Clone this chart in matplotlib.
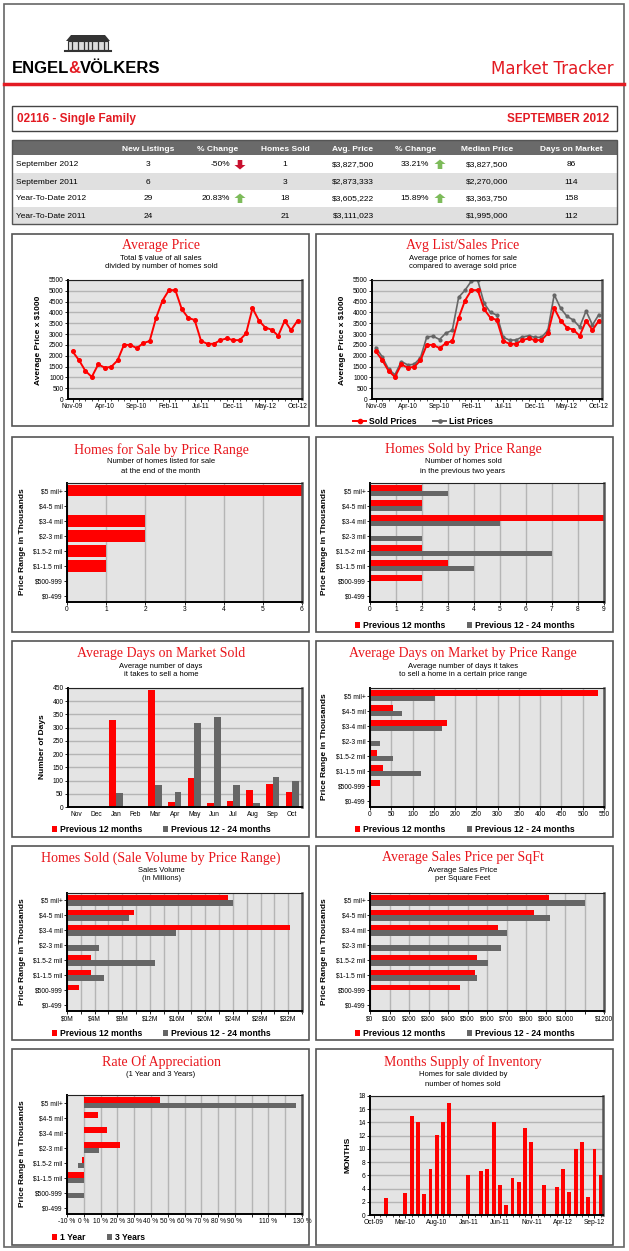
import matplotlib
matplotlib.use('Agg')
import matplotlib.pyplot as plt
from matplotlib.patches import Rectangle, Polygon
from matplotlib.lines import Line2D
import numpy as np

plt.rcParams['font.family'] = ['Liberation Sans', 'DejaVu Sans']

W, H = 629, 1251
RED = '#ff0000'
TITLE_RED = '#e8151b'
GRAY = '#666666'
BG = '#e4e4e4'
GRID = '#b5b5b5'
SERIF = 'Liberation Serif'

# ---------------- data ----------------
row_labels = ['September 2012', 'September 2011', 'Year-To-Date 2012', 'Year-To-Date 2011']
new_listings = ['3', '6', '29', '24']
pct_listings = ['-50%', '', '20.83%', '']
arrow_listings = ['down', '', 'up', '']
homes_sold = ['1', '3', '18', '21']
avg_price_tbl = ['$3,827,500', '$2,873,333', '$3,605,222', '$3,111,023']
pct_price = ['33.21%', '', '15.89%', '']
arrow_price = ['up', '', 'up', '']
median_price = ['$3,827,500', '$2,270,000', '$3,363,750', '$1,995,000']
days_market = ['86', '114', '158', '112']
table_headers = ['New Listings', '% Change', 'Homes Sold', 'Avg. Price', '% Change', 'Median Price', 'Days on Market']

price_ticks = ['Nov-09', 'Apr-10', 'Sep-10', 'Feb-11', 'Jul-11', 'Dec-11', 'May-12', 'Oct-12']
sold_price = [2200, 1800, 1300, 1020, 1600, 1450, 1480, 1780, 2500, 2500, 2350, 2580,
              2680, 3750, 4550, 5030, 5030, 4150, 3750, 3650, 2680, 2550, 2550, 2720,
              2800, 2720, 2720, 3030, 4200, 3620, 3300, 3200, 2920, 3620, 3180, 3620]
list_price = [2380, 1950, 1380, 1120, 1730, 1580, 1600, 1900, 2870, 2900, 2750, 3050,
              3170, 4700, 5030, 5450, 5480, 4420, 4000, 3880, 2850, 2720, 2730, 2870,
              2920, 2850, 2850, 3170, 4820, 4200, 3820, 3650, 3330, 4070, 3420, 3900]

ranges = ['$5 mil+', '$4-5 mil', '$3-4 mil', '$2-3 mil', '$1.5-2 mil', '$1-1.5 mil', '$500-999', '$0-499']
for_sale = [6, 0, 2, 2, 1, 1, 0, 0]
sold_12 = [2, 2, 9, 0, 2, 3, 2, 0]
sold_24 = [3, 2, 5, 2, 7, 4, 0, 0]

dom_months = ['Nov', 'Dec', 'Jan', 'Feb', 'Mar', 'Apr', 'May', 'Jun', 'Jul', 'Aug', 'Sep', 'Oct']
dom_12 = [0, 0, 330, 0, 443, 20, 110, 17, 22, 63, 87, 58]
dom_24 = [0, 0, 53, 0, 85, 58, 318, 342, 85, 15, 115, 98]

dom_range_12 = [537, 55, 180, 0, 17, 31, 23, 0]
dom_range_24 = [153, 76, 170, 24, 55, 120, 0, 0]

vol_12 = [23.3, 9.7, 32.3, 0, 3.5, 3.4, 1.7, 0]
vol_24 = [24.0, 9.0, 15.8, 4.6, 12.7, 5.4, 0, 0]

sqft_12 = [920, 840, 655, 0, 550, 540, 460, 0]
sqft_24 = [1105, 925, 705, 670, 605, 550, 0, 0]

appr_1y = [45.5, 8.3, 14.0, 21.6, -1.2, -10.5, 0, 0]
appr_3y = [126.5, 0, 0, 8.8, -3.3, -10.5, -10.5, 0]

supply_ticks = ['Oct-09', 'Mar-10', 'Aug-10', 'Jan-11', 'Jun-11', 'Nov-11', 'Apr-12', 'Sep-12']
supply = [0, 0, 2.5, 0, 0, 3.4, 15, 14, 3.2, 7, 12.1, 14, 17, 0, 0, 6, 0, 6.6, 7, 14,
          4.5, 1.5, 5.6, 5, 13.1, 11.1, 0, 4.5, 0, 4.3, 7, 3.5, 10, 11.1, 2.7, 10, 6]

# ---------------- helpers (pixel coords, y from top) ----------------
fig = plt.figure(figsize=(W / 100, H / 100), dpi=100)


def fy(y):
    return 1 - y / H


def add_ax(x0, y0, x1, y1):
    return fig.add_axes([x0 / W, 1 - y1 / H, (x1 - x0) / W, (y1 - y0) / H])


def fig_rect(x0, y0, x1, y1, **kw):
    r = Rectangle((x0 / W, 1 - y1 / H), (x1 - x0) / W, (y1 - y0) / H,
                  transform=fig.transFigure, **kw)
    fig.add_artist(r)


def fig_text(x, y, s, **kw):
    return fig.text(x / W, fy(y), s, **kw)


def arrow(cx, cy, direction, color):
    s = 1 if direction == 'up' else -1
    pts = [(cx, cy - 5 * s), (cx + 5.5, cy - 0.5 * s), (cx + 2.3, cy - 0.5 * s),
           (cx + 2.3, cy + 4.5 * s), (cx - 2.3, cy + 4.5 * s), (cx - 2.3, cy - 0.5 * s),
           (cx - 5.5, cy - 0.5 * s)]
    fig.add_artist(Polygon([(x / W, fy(y)) for x, y in pts], closed=True,
                           transform=fig.transFigure, facecolor=color, edgecolor='none'))


def titles(cx, title, ty, subs, sub_y):
    fig_text(cx, ty, title, ha='center', va='center', family=SERIF, fontsize=10, color=TITLE_RED)
    for s, y in zip(subs, sub_y):
        fig_text(cx, y, s, ha='center', va='center', fontsize=5.5)


def ylabel(x, y, s):
    fig_text(x, y, s, ha='center', va='center', rotation=90, fontsize=6, weight='bold')


def style(ax):
    ax.set_facecolor(BG)
    ax.set_axisbelow(True)
    ax.spines['left'].set_linewidth(1.4)
    ax.spines['bottom'].set_linewidth(1.4)
    ax.spines['top'].set_linewidth(0.8)
    ax.spines['top'].set_color('#222222')
    ax.spines['right'].set_linewidth(1.8)
    ax.spines['right'].set_color('#555555')
    ax.tick_params(labelsize=4.8, length=2, width=0.6, pad=1.2)


def sq_legend(items, y):
    for x, color, label in items:
        fig_rect(x, y - 2.6, x + 5.2, y + 2.6, facecolor=color, edgecolor='none')
        fig_text(x + 8, y, label, ha='left', va='center', fontsize=6.2, weight='bold')


def hbars(ax, v1, v2=None):
    y = np.arange(len(ranges))
    if v2 is None:
        ax.barh(y, v1, height=0.78, color=RED)
    else:
        ax.barh(y - 0.18, v1, height=0.36, color=RED)
        ax.barh(y + 0.18, v2, height=0.36, color=GRAY)
    ax.set_yticks(y)
    ax.set_yticklabels(ranges)
    ax.set_ylim(7.4, -0.5)
    ax.xaxis.grid(True, color=GRID, lw=1.0)
    style(ax)


# ---------------- page header ----------------
fig_rect(4, 4, 624, 1247, facecolor='none', edgecolor='#666666', lw=1.2)

# logo building
fig.add_artist(Polygon([(x / W, fy(y)) for x, y in [(66, 41), (71, 35), (105, 35), (110, 41)]],
                       closed=True, transform=fig.transFigure, facecolor='#333333'))
fig_rect(68, 41, 108, 50, facecolor='#dddddd', edgecolor='#333333', lw=0.8)
for cx in [72, 78, 84, 88, 92, 98, 104]:
    fig.add_artist(Line2D([cx / W] * 2, [fy(42), fy(49)], transform=fig.transFigure,
                          color='#333333', lw=0.9))
fig.add_artist(Line2D([65 / W, 111 / W], [fy(51)] * 2, transform=fig.transFigure,
                      color='#333333', lw=1.5))

renderer = fig.canvas.get_renderer()
x_cur = 12
for part, col, gap in [('ENGEL', 'black', -1.5), ('&', '#e31b23', 0.3), ('VÖLKERS', 'black', 0)]:
    t = fig_text(x_cur, 73, part, ha='left', va='baseline', fontsize=12, weight='bold', color=col)
    x_cur = t.get_window_extent(renderer).x1 + gap
fig_text(614, 74, 'Market Tracker', ha='right', va='baseline', fontsize=12,
         color='#e31b23', family='DejaVu Sans')
fig.add_artist(Line2D([4 / W, 624 / W], [fy(84)] * 2, transform=fig.transFigure,
                      color='#e31b23', lw=2.5))

fig_rect(12, 106, 617, 131, facecolor='none', edgecolor='#444444', lw=1)
fig_text(17, 122, '02116 - Single Family', ha='left', va='baseline', fontsize=8.5,
         weight='bold', color='#e31b23')
fig_text(609, 122, 'SEPTEMBER 2012', ha='right', va='baseline', fontsize=8.5,
         weight='bold', color='#e31b23')

# ---------------- summary table ----------------
fig_rect(12, 140, 617, 155, facecolor='#6a6a6a', edgecolor='none')
row_bounds = [(155, 173), (173, 190), (190, 207), (207, 224)]
for i, (a, b) in enumerate(row_bounds):
    fig_rect(12, a, 617, b, facecolor='white' if i % 2 == 0 else '#e0e0e0', edgecolor='none')
fig_rect(12, 140, 617, 224, facecolor='none', edgecolor='#555555', lw=1)

col_x = [148, 218, 285, 353, 416, 487, 571]
for x, h in zip(col_x, table_headers):
    fig_text(x, 149.5, h, ha='center', va='center', fontsize=6, weight='bold', color='white')

row_y = [165, 182, 199, 216]
for i, y in enumerate(row_y):
    fig_text(16, y, row_labels[i], ha='left', va='center', fontsize=6)
    fig_text(col_x[0], y, new_listings[i], ha='center', va='center', fontsize=6)
    fig_text(230, y, pct_listings[i], ha='right', va='center', fontsize=6)
    fig_text(col_x[2], y, homes_sold[i], ha='center', va='center', fontsize=6)
    fig_text(col_x[3], y, avg_price_tbl[i], ha='center', va='center', fontsize=6)
    fig_text(429, y, pct_price[i], ha='right', va='center', fontsize=6)
    fig_text(col_x[5], y, median_price[i], ha='center', va='center', fontsize=6)
    fig_text(col_x[6], y, days_market[i], ha='center', va='center', fontsize=6)
    for ax_x, d in [(240, arrow_listings[i]), (440, arrow_price[i])]:
        if d:
            arrow(ax_x, y - 0.5, d, '#c8102e' if d == 'down' else '#7dbb5a')

# ---------------- panel borders ----------------
panel_rows = [(234, 426), (437, 632), (641, 837), (846, 1040), (1049, 1245)]
for a, b in panel_rows:
    fig_rect(12, a, 309, b, facecolor='none', edgecolor='#555555', lw=1.2, zorder=5)
    fig_rect(316, a, 613, b, facecolor='none', edgecolor='#555555', lw=1.2, zorder=5)

months_idx = np.arange(len(sold_price))

# 1 Average Price
ax = add_ax(68, 280, 302, 399)
ax.plot(months_idx, sold_price, color=RED, lw=1.4, marker='o', ms=2.6)
ax.set_xlim(-0.7, 35.7)
ax.set_ylim(0, 5500)
ax.set_yticks(np.arange(0, 5501, 500))
ax.set_xticks(np.arange(0, 36, 5))
ax.set_xticklabels(price_ticks)
ax.set_xticks(months_idx, minor=True)
ax.yaxis.grid(True, color=GRID, lw=1.0)
style(ax)
ax.tick_params(which='minor', length=1.5, width=0.5)
titles(161, 'Average Price', 246, ['Total $ value of all sales', 'divided by number of homes sold'], [258, 267])
ylabel(38, 340, 'Average Price x $1000')

# 2 Avg List/Sales Price
ax = add_ax(372, 280, 602, 399)
ax.plot(months_idx, list_price, color=GRAY, lw=1.2, marker='o', ms=2)
ax.plot(months_idx, sold_price, color=RED, lw=1.4, marker='o', ms=2.6)
ax.set_xlim(-0.6, 35.5)
ax.set_ylim(0, 5500)
ax.set_yticks(np.arange(0, 5501, 500))
ax.set_xticks(np.arange(0, 36, 5))
ax.set_xticklabels(price_ticks)
ax.set_xticks(months_idx, minor=True)
ax.yaxis.grid(True, color=GRID, lw=1.0)
style(ax)
ax.tick_params(which='minor', length=1.5, width=0.5)
titles(463, 'Avg List/Sales Price', 246, ['Average price of homes for sale', 'compared to average sold price'], [258, 267])
ylabel(342, 340, 'Average Price x $1000')
for x0, x1, col, ms, lab in [(353, 366, RED, 3, 'Sold Prices'), (433, 446, GRAY, 2.4, 'List Prices')]:
    fig.add_artist(Line2D([x0 / W, x1 / W], [fy(421)] * 2, transform=fig.transFigure, color=col, lw=1.4))
    fig.add_artist(Line2D([(x0 + x1) / 2 / W], [fy(421)], transform=fig.transFigure, color=col,
                          marker='o', ms=ms, lw=0))
    fig_text(x1 + 3, 421, lab, ha='left', va='center', fontsize=6.2, weight='bold')

# 3 Homes for Sale by Price Range
ax = add_ax(67, 483, 302, 602)
hbars(ax, for_sale)
ax.set_xlim(0, 6)
ax.set_xticks(range(7))
titles(161, 'Homes for Sale by Price Range', 450, ['Number of homes listed for sale', 'at the end of the month'], [462, 472])
ylabel(23, 542, 'Price Range in Thousands')

# 4 Homes Sold by Price Range
ax = add_ax(370, 483, 604, 602)
hbars(ax, sold_12, sold_24)
ax.set_xlim(0, 9)
ax.set_xticks(range(10))
titles(463, 'Homes Sold by Price Range', 450, ['Number of homes sold', 'in the previous two years'], [462, 472])
ylabel(325, 542, 'Price Range in Thousands')
sq_legend([(355, RED, 'Previous 12 months'), (467, GRAY, 'Previous 12 - 24 months')], 625)

# 5 Average Days on Market Sold
ax = add_ax(68, 688, 302, 807)
xm = np.arange(len(dom_months))
ax.bar(xm - 0.17, dom_12, width=0.34, color=RED)
ax.bar(xm + 0.17, dom_24, width=0.34, color=GRAY)
ax.set_xlim(-0.45, 11.5)
ax.set_ylim(0, 450)
ax.set_yticks(np.arange(0, 451, 50))
ax.set_xticks(xm)
ax.set_xticklabels(dom_months)
ax.yaxis.grid(True, color=GRID, lw=1.0)
style(ax)
ax.tick_params(axis='x', length=0, pad=3)
titles(161, 'Average Days on Market Sold', 654, ['Average number of days', 'it takes to sell a home'], [666, 675])
ylabel(42, 747, 'Number of Days')
sq_legend([(52, RED, 'Previous 12 months'), (163, GRAY, 'Previous 12 - 24 months')], 829)

# 6 Average Days on Market by Price Range
ax = add_ax(370, 688, 604, 807)
hbars(ax, dom_range_12, dom_range_24)
ax.set_xlim(0, 550)
ax.set_xticks(range(0, 551, 50))
titles(463, 'Average Days on Market by Price Range', 654,
       ['Average number of days it takes', 'to sell a home in a certain price range'], [666, 675])
ylabel(325, 747, 'Price Range in Thousands')
sq_legend([(355, RED, 'Previous 12 months'), (467, GRAY, 'Previous 12 - 24 months')], 829)

# 7 Homes Sold (Sale Volume by Price Range)
ax = add_ax(67, 893, 302, 1011)
hbars(ax, vol_12, vol_24)
ax.set_xlim(0, 34)
ax.set_xticks(range(0, 35, 2))
ax.set_xticklabels(['$%dM' % v if v % 4 == 0 else '' for v in range(0, 35, 2)])
titles(161, 'Homes Sold (Sale Volume by Price Range)', 858, ['Sales Volume', '(in Millions)'], [870, 879])
ylabel(23, 952, 'Price Range in Thousands')
sq_legend([(52, RED, 'Previous 12 months'), (163, GRAY, 'Previous 12 - 24 months')], 1033)

# 8 Average Sales Price per SqFt
ax = add_ax(370, 893, 604, 1011)
hbars(ax, sqft_12, sqft_24)
ax.set_xlim(0, 1200)
ax.set_xticks(range(0, 1201, 100))
ax.set_xticklabels(['' if v == 1100 else '$%d' % v for v in range(0, 1201, 100)])
titles(463, 'Average Sales Price per SqFt', 858, ['Average Sales Price', 'per Square Feet'], [870, 879])
ylabel(325, 952, 'Price Range in Thousands')
sq_legend([(355, RED, 'Previous 12 months'), (467, GRAY, 'Previous 12 - 24 months')], 1033)

# 9 Rate Of Appreciation
ax = add_ax(67, 1095, 302, 1214)
hbars(ax, appr_1y, appr_3y)
ax.set_xlim(-10, 130)
ax.set_xticks(range(-10, 131, 10))
ax.set_xticklabels(['' if v in (100, 120) else '%d %%' % v for v in range(-10, 131, 10)])
titles(161, 'Rate Of Appreciation', 1062, ['(1 Year and 3 Years)'], [1074])
ylabel(23, 1154, 'Price Range in Thousands')
sq_legend([(52, RED, '1 Year'), (107, GRAY, '3 Years')], 1237)

# 10 Months Supply of Inventory
ax = add_ax(370, 1096, 603, 1215)
xs = np.arange(len(supply))
ax.bar(xs, supply, width=0.62, color=RED)
ax.set_xlim(-0.6, 36.35)
ax.set_ylim(0, 18)
ax.set_yticks(range(0, 19, 2))
ax.set_xticks(np.arange(0, 36, 5))
ax.set_xticklabels(supply_ticks)
ax.set_xticks(xs, minor=True)
ax.yaxis.grid(True, color=GRID, lw=1.0)
style(ax)
ax.tick_params(which='minor', length=1.5, width=0.5)
titles(463, 'Months Supply of Inventory', 1062, ['Homes for sale divided by', 'number of homes sold'], [1074, 1084])
ylabel(348, 1155, 'MONTHS')

fig.savefig('out.png', dpi=100, facecolor='white')
